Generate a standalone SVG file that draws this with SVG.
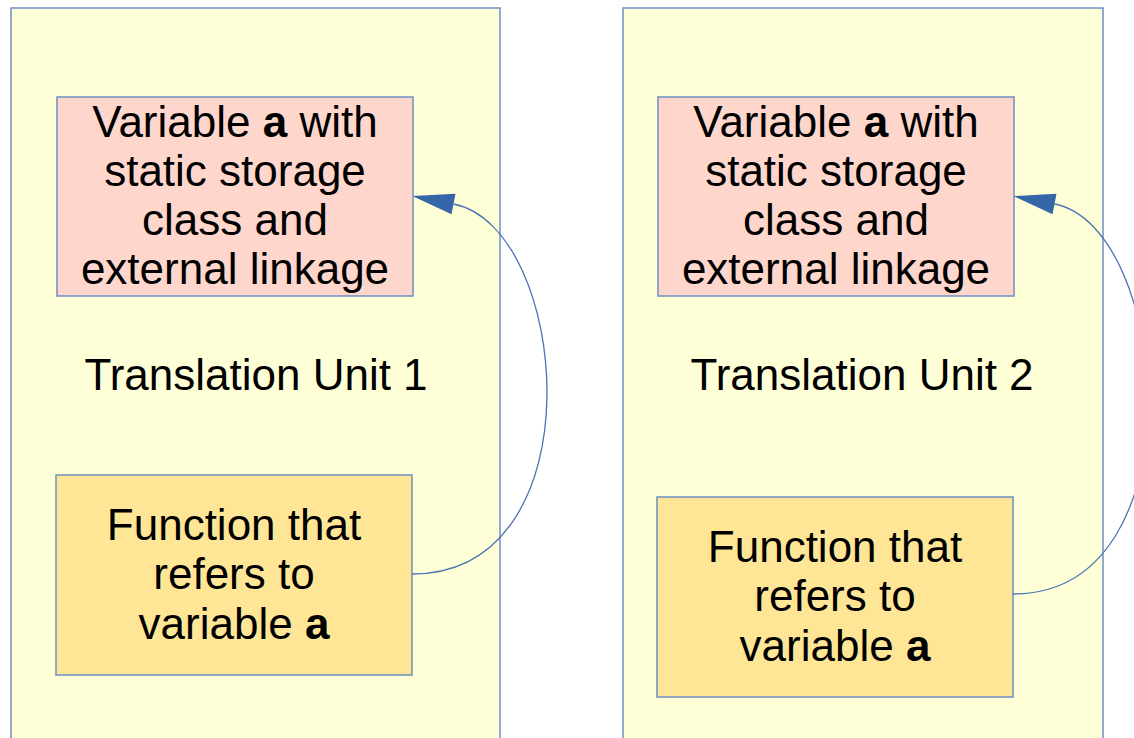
<svg xmlns="http://www.w3.org/2000/svg" width="1134" height="738" viewBox="0 0 1134 738">
<style>
.unit{fill:#ffffd7;stroke:#6d8fc4;stroke-width:1.5}
.var{fill:#ffd6cc;stroke:#6d8fc4;stroke-width:1.5}
.fn{fill:#ffe697;stroke:#6d8fc4;stroke-width:1.5}
text{font-family:"Liberation Sans",Arial,sans-serif;font-size:44px;fill:#000;text-anchor:middle}
.b{font-weight:bold}
.conn{fill:none;stroke:#4a74b4;stroke-width:1.3}
</style>
<defs>
<marker id="arrow" markerUnits="userSpaceOnUse" markerWidth="42" markerHeight="22" viewBox="0 0 40 20" refX="0" refY="10" orient="auto" overflow="visible">
<path d="M0,0 L40,10 L0,20 Z" fill="#3566a8"/>
</marker>
</defs>
<rect width="1134" height="738" fill="#ffffff"/>
<g id="unit1">
<rect class="unit" x="11" y="8" width="489" height="760"/>
<text x="256" y="390">Translation Unit 1</text>
</g>
<g id="unit2">
<rect class="unit" x="623" y="8" width="480" height="760"/>
<text x="862" y="390">Translation Unit 2</text>
</g>
<g id="var1">
<rect class="var" x="57" y="97" width="356" height="199"/>
<text x="235" y="137">Variable <tspan class="b">a</tspan> with</text>
<text x="235" y="186">static storage</text>
<text x="235" y="235">class and</text>
<text x="235" y="284">external linkage</text>
</g>
<g id="fn1">
<rect class="fn" x="56" y="475" width="356" height="200"/>
<text x="234" y="540">Function that</text>
<text x="234" y="589">refers to</text>
<text x="234" y="639">variable <tspan class="b">a</tspan></text>
</g>
<g id="var2">
<rect class="var" x="658" y="97" width="356" height="199"/>
<text x="836" y="137">Variable <tspan class="b">a</tspan> with</text>
<text x="836" y="186">static storage</text>
<text x="836" y="235">class and</text>
<text x="836" y="284">external linkage</text>
</g>
<g id="fn2">
<rect class="fn" x="657" y="497" width="356" height="200"/>
<text x="835" y="562">Function that</text>
<text x="835" y="611">refers to</text>
<text x="835" y="661">variable <tspan class="b">a</tspan></text>
</g>
<g id="connectors">
<path class="conn" d="M412,574 C600,574 570,226.5 453.5,204" marker-end="url(#arrow)"/>
<path class="conn" d="M1013,594 C1201,594 1171,226.5 1054.5,204" marker-end="url(#arrow)"/>
</g>
</svg>
